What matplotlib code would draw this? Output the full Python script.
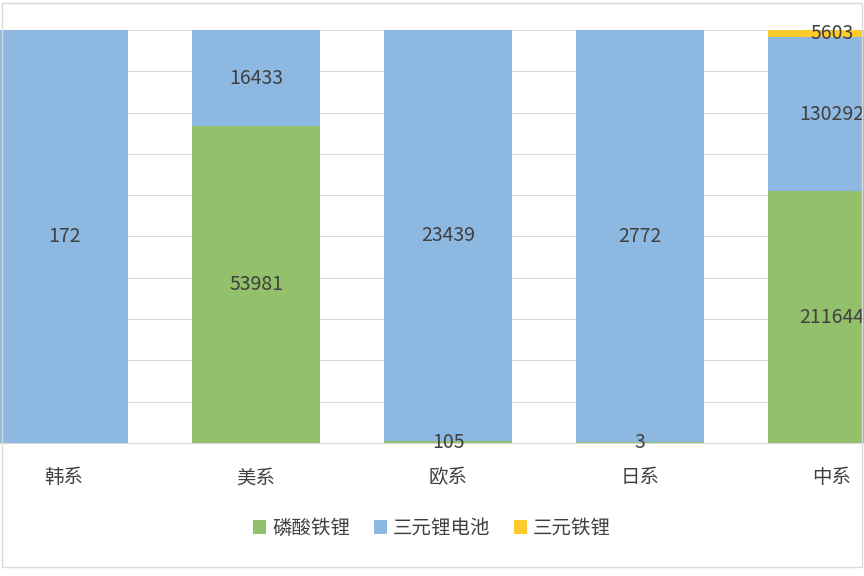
import numpy as np
import matplotlib.pyplot as plt

plt.rcParams['font.family'] = ['Noto Sans CJK SC', 'DejaVu Sans']

categories = ['韩系', '美系', '欧系', '日系', '中系']
series_names = ['磷酸铁锂', '三元锂电池', '三元铁锂']
lfp = [0, 53981, 105, 3, 211644]
ncm = [172, 16433, 23439, 2772, 130292]
ncm_fe = [0, 0, 0, 0, 5603]
colors = ['#93c06b', '#8cb8e2', '#fdcb2e']

data = np.array([lfp, ncm, ncm_fe], dtype=float)
share = data / data.sum(axis=0)

fig = plt.figure(figsize=(8.64, 5.76), dpi=100)
ax = fig.add_axes([-32 / 864, 0.231, 960 / 864, 0.717])
x = np.arange(len(categories))
bottom = np.zeros(len(categories))
for i, name in enumerate(series_names):
    ax.bar(x, share[i], 0.667, bottom=bottom, color=colors[i], label=name, zorder=2)
    for j in range(len(categories)):
        if data[i, j] > 0:
            ax.text(x[j], bottom[j] + share[i, j] / 2, str(int(data[i, j])),
                    ha='center', va='center', fontsize=14, color='#404040', zorder=3)
    bottom += share[i]

ax.set_xlim(-0.5, 4.5)
ax.set_ylim(0, 1)
ax.set_yticks(np.linspace(0, 1, 11))
ax.set_yticklabels([])
ax.tick_params(left=False, bottom=False)
ax.tick_params(axis='x', pad=14)
ax.grid(axis='y', color='#d9d9d9', linewidth=0.8, zorder=0)
for s in ['top', 'right', 'left']:
    ax.spines[s].set_visible(False)
ax.spines['bottom'].set_color('#d9d9d9')
ax.set_xticks(x)
ax.set_xticklabels(categories, fontsize=14, color='#404040')

fig.legend(loc='center', bbox_to_anchor=(0.5, 0.083), ncol=3, frameon=False,
           fontsize=14, handlelength=0.7, handleheight=0.7, columnspacing=1.2,
           handletextpad=0.3, labelcolor='#404040')
fig.patches.append(plt.Rectangle((0.002, 0.015), 0.996, 0.98, transform=fig.transFigure,
                                 fill=False, edgecolor='#d9d9d9', linewidth=1))
fig.savefig('out.png', dpi=100)
